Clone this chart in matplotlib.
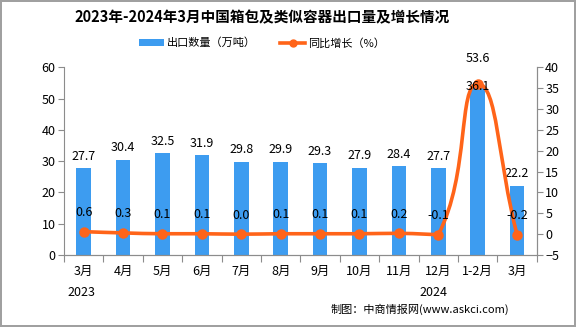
import numpy as np
import matplotlib
matplotlib.use("Agg")
import matplotlib.pyplot as plt
from matplotlib.path import Path
from matplotlib.patches import PathPatch, Patch
from matplotlib.lines import Line2D

plt.rcParams['font.family'] = ['Noto Sans CJK SC', 'DejaVu Sans']

#data
months = ['3月', '4月', '5月', '6月', '7月', '8月', '9月', '10月', '11月', '12月', '1-2月', '3月']
volume = [27.7, 30.4, 32.5, 31.9, 29.8, 29.9, 29.3, 27.9, 28.4, 27.7, 53.6, 22.2]
growth = [0.6, 0.3, 0.1, 0.1, 0.0, 0.1, 0.1, 0.1, 0.2, -0.1, 36.1, -0.2]
title = '2023年-2024年3月中国箱包及类似容器出口量及增长情况'
bar_name = '出口数量（万吨）'
line_name = '同比增长（%）'
years = ['2023', '2024']
source = '制图：中商情报网(www.askci.com)'

bar_color = '#3D9CF0'
line_color = '#FF6419'
spine_color = '#8C8C8C'

fig = plt.figure(figsize=(5.76, 3.27), dpi=100)
fig.patch.set_edgecolor('#A0A0A0')
fig.patch.set_linewidth(1.5)
ax = fig.add_axes([0.111, 0.2202, 0.821, 0.5734])
ax2 = ax.twinx()

x = np.arange(len(months))
ax.bar(x, volume, width=0.37, color=bar_color, zorder=2)
ax.set_xlim(-0.5, len(months) - 0.5)
ax.set_ylim(0, 60)
ax.set_yticks(range(0, 61, 10))
ax2.set_ylim(-5, 40)
ax2.set_yticks(range(-5, 41, 5))
fig.canvas.draw()

# bar labels, pushed up where the line point sits near the bar top
bar_tops = ax.transData.transform(np.column_stack([x, volume]))[:, 1]
line_pts = ax2.transData.transform(np.column_stack([x, growth]))[:, 1]
for xi, v, bt, lp in zip(x, volume, bar_tops, line_pts):
    off = 16 if abs(bt - lp) < 30 else 4
    ax.annotate(f'{v}', (xi, v), xytext=(0, off), textcoords='offset points',
                ha='center', va='bottom', fontsize=9)

# smoothed line through the points (bezier, control points clamped per segment)
pts = ax2.transData.transform(np.column_stack([x, growth]))
n = len(pts)
s = 0.5
cps_in = [None] * n
cps_out = [None] * n
for i in range(n):
    p = pts[i]
    prv = pts[i - 1] if i > 0 else p
    nxt = pts[i + 1] if i < n - 1 else p
    v = nxt - prv
    d0 = np.hypot(*(p - prv))
    d1 = np.hypot(*(nxt - p))
    tot = d0 + d1 if d0 + d1 > 0 else 1
    c_in = p - v * s * d0 / tot
    c_out = p + v * s * d1 / tot
    c_in = np.clip(c_in, np.minimum(p, prv), np.maximum(p, prv))
    c_out = np.clip(c_out, np.minimum(p, nxt), np.maximum(p, nxt))
    cps_in[i] = c_in
    cps_out[i] = c_out
verts = [pts[0]]
codes = [Path.MOVETO]
for i in range(n - 1):
    verts += [cps_out[i], cps_in[i + 1], pts[i + 1]]
    codes += [Path.CURVE4] * 3
verts = ax2.transData.inverted().transform(np.array(verts))
ax2.add_patch(PathPatch(Path(verts, codes), facecolor='none', edgecolor=line_color,
                        lw=2.6, zorder=3))
ax2.plot(x, growth, 'o', color=line_color, ms=6.5, zorder=4)

for xi, g in zip(x, growth):
    if g > 0.85 * 40:
        ax2.annotate(f'{g:.1f}', (xi, g), xytext=(0, -2), textcoords='offset points',
                     ha='center', va='center', fontsize=9, zorder=5)
    else:
        ax2.annotate(f'{g:.1f}', (xi, g), xytext=(0, 9), textcoords='offset points',
                     ha='center', va='bottom', fontsize=9)

# axes styling
for a in (ax, ax2):
    a.spines['top'].set_visible(False)
    for sp in ('left', 'right', 'bottom'):
        a.spines[sp].set_color(spine_color)
    a.tick_params(axis='y', colors=spine_color, labelcolor='black', labelsize=9, length=4, pad=2)
ax2.spines['left'].set_visible(False)

ax.set_xticks(np.arange(-0.5, len(months), 1))
ax.set_xticklabels([])
ax.set_xticks(x, minor=True)
ax.set_xticklabels(months, minor=True, fontsize=9)
ax.tick_params(axis='x', which='major', length=5, colors=spine_color)
ax.tick_params(axis='x', which='minor', length=0, pad=7)

fig.text(67 / 576, 1 - 292 / 327, years[0], ha='left', va='center', fontsize=9)
fig.text(433 / 576, 1 - 292 / 327, years[1], ha='center', va='center', fontsize=9)

fig.text(0.455, 1 - 17 / 327, title, ha='center', va='center', fontsize=10.5, fontweight='bold')
handles = [Patch(facecolor=bar_color, label=bar_name),
           Line2D([], [], color=line_color, lw=2.6, marker='o', ms=5, label=line_name)]
fig.legend(handles=handles, loc='center', bbox_to_anchor=(0.455, 1 - 43 / 327), ncol=2,
           frameon=False, fontsize=8, handlelength=2.2, handleheight=0.6,
           handletextpad=0.3, columnspacing=2.2)

fig.text(509 / 576, 1 - 309 / 327, source, ha='right', va='center', fontsize=8)

fig.savefig('out.png', dpi=100)
